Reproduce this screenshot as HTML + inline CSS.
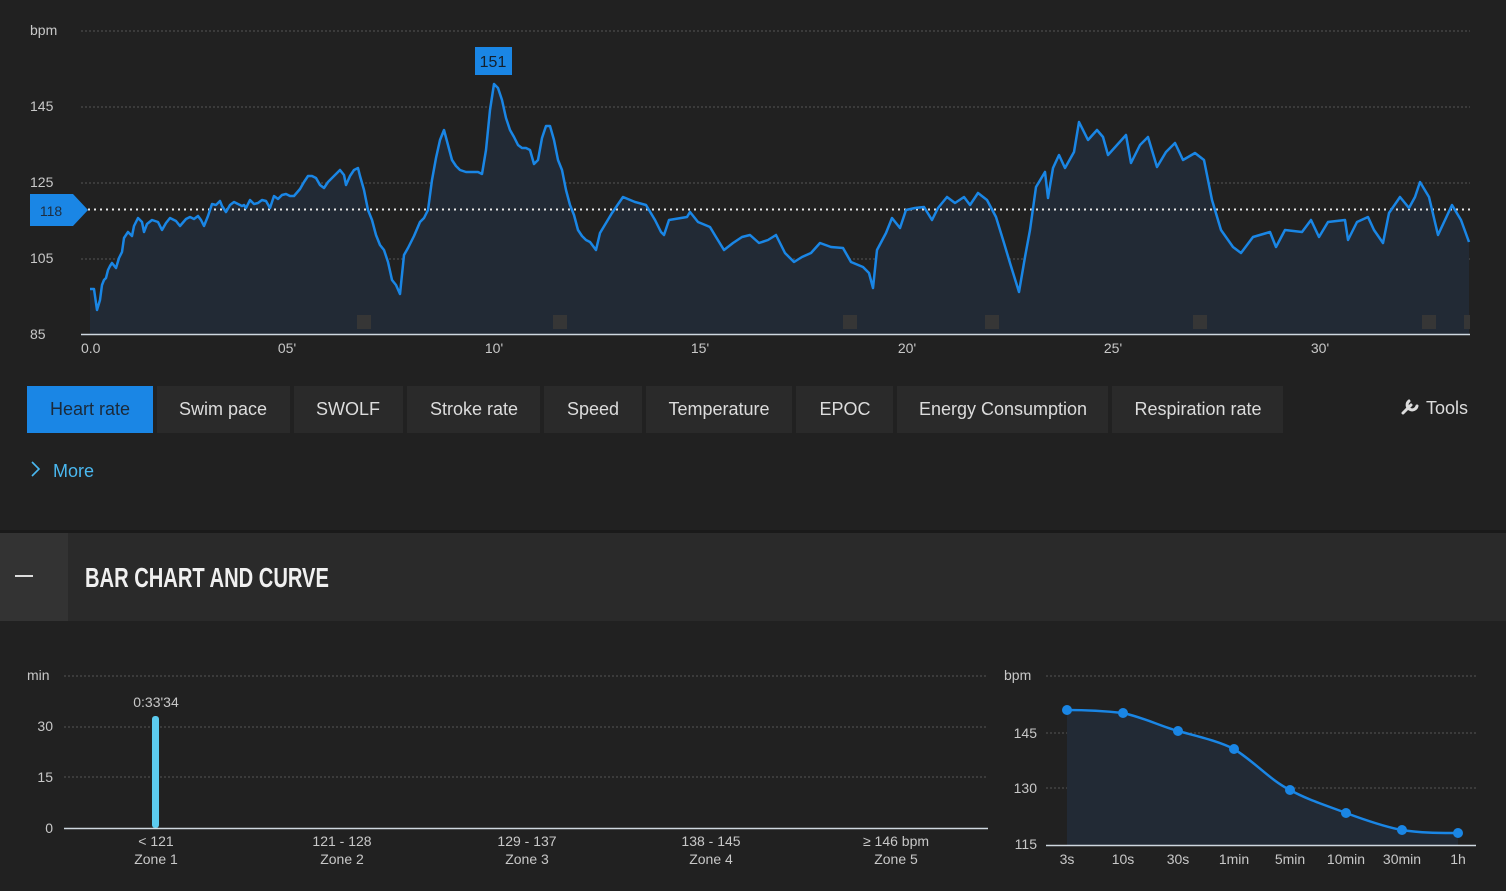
<!DOCTYPE html>
<html><head><meta charset="utf-8"><style>
html,body{margin:0;padding:0;background:#212121;width:1506px;height:891px;overflow:hidden;font-family:"Liberation Sans",Arial,sans-serif}
svg{position:absolute;left:0;top:0}
text{font-family:"Liberation Sans",Arial,sans-serif}
</style></head><body>
<svg width="1506" height="891" viewBox="0 0 1506 891" xmlns="http://www.w3.org/2000/svg">
<rect width="1506" height="891" fill="#212121"/>
<g stroke="#555" stroke-width="1" stroke-dasharray="2,2">
<line x1="81" y1="31" x2="1470" y2="31"/>
<line x1="81" y1="107" x2="1470" y2="107"/>
<line x1="81" y1="183" x2="1470" y2="183"/>
<line x1="81" y1="259" x2="1470" y2="259"/>
</g>
<g fill="#c8c8c8" font-size="14">
<text x="30" y="35">bpm</text>
<text x="30" y="111">145</text>
<text x="30" y="187">125</text>
<text x="30" y="263">105</text>
<text x="30" y="339">85</text>
<text x="81" y="353">0.0</text>
<text x="287" y="353" text-anchor="middle">05'</text>
<text x="494" y="353" text-anchor="middle">10'</text>
<text x="700" y="353" text-anchor="middle">15'</text>
<text x="907" y="353" text-anchor="middle">20'</text>
<text x="1113" y="353" text-anchor="middle">25'</text>
<text x="1320" y="353" text-anchor="middle">30'</text>
</g>
<polygon fill="#222a35" points="90,334 90,289 94,289 97,310 100,300 102,285 104,280 106,278 108,270 110,266 112,263 116,268 119,258 122,252 124,238 128,232 132,236 134,226 138,218 142,222 144,232 147,224 152,220 158,222 162,230 166,223 170,218 174,220 176,221 180,226 186,219 190,217 194,219 198,216 201,220 204,226 208,216 212,204 216,205 220,201 222,206 226,212 230,205 234,202 238,204 242,206 244,205 246,208 250,200 254,204 258,203 262,200 266,201 270,208 274,196 278,199 282,195 286,194 290,196 294,196 300,189 304,182 308,176 312,176 316,178 320,185 324,188 328,182 332,178 336,174 340,170 344,175 346,185 350,176 354,170 358,168 360,176 364,190 368,210 372,220 376,235 380,245 384,250 388,262 392,280 396,285 400,294 404,255 408,248 414,236 420,222 424,218 428,210 432,180 436,158 440,140 444,130 448,145 452,160 456,166 460,170 466,172 472,172 478,172 482,174 486,150 490,110 494,84 498,88 502,100 506,118 510,130 514,137 518,145 522,148 526,148 530,150 534,164 538,160 542,138 546,126 550,126 554,140 558,160 562,170 566,190 570,205 574,215 578,230 582,236 586,240 590,242 596,250 600,233 612,213 623,197 635,202 646,205 655,220 661,232 664,235 669,220 687,217 690,212 698,222 710,227 716,237 724,250 733,243 742,237 750,235 759,243 768,240 776,235 785,253 794,262 802,257 811,253 820,243 831,247 843,248 851,262 863,267 869,273 873,288 877,250 886,233 892,218 900,228 906,210 915,208 924,207 932,220 938,208 947,197 955,203 964,197 970,205 978,193 987,200 996,217 1004,243 1010,263 1019,292 1025,257 1030,230 1036,187 1045,172 1048,198 1053,168 1059,155 1065,168 1074,152 1079,122 1088,140 1097,130 1103,137 1108,155 1117,145 1126,135 1131,163 1140,145 1148,137 1157,167 1166,152 1175,143 1183,160 1195,153 1204,160 1212,200 1221,230 1233,247 1241,253 1253,237 1270,232 1276,247 1285,230 1302,232 1311,220 1319,237 1328,222 1345,220 1348,240 1357,222 1368,217 1374,230 1383,243 1389,213 1400,197 1409,208 1415,197 1420,182 1429,197 1438,235 1452,205 1461,220 1469,242 1469,334"/>
<g fill="#363636">
<rect x="357" y="315" width="14" height="14"/><rect x="553" y="315" width="14" height="14"/>
<rect x="843" y="315" width="14" height="14"/><rect x="985" y="315" width="14" height="14"/>
<rect x="1193" y="315" width="14" height="14"/><rect x="1422" y="315" width="14" height="14"/>
<rect x="1464" y="315" width="6" height="14"/>
</g>
<line x1="81" y1="334.5" x2="1470" y2="334.5" stroke="#cfd8e0" stroke-width="1.5"/>
<line x1="88" y1="209.5" x2="1470" y2="209.5" stroke="#e8e8e8" stroke-width="2" stroke-dasharray="2,4"/>
<polyline fill="none" stroke="#1a86e5" stroke-width="2.5" stroke-linejoin="round" points="90,289 94,289 97,310 100,300 102,285 104,280 106,278 108,270 110,266 112,263 116,268 119,258 122,252 124,238 128,232 132,236 134,226 138,218 142,222 144,232 147,224 152,220 158,222 162,230 166,223 170,218 174,220 176,221 180,226 186,219 190,217 194,219 198,216 201,220 204,226 208,216 212,204 216,205 220,201 222,206 226,212 230,205 234,202 238,204 242,206 244,205 246,208 250,200 254,204 258,203 262,200 266,201 270,208 274,196 278,199 282,195 286,194 290,196 294,196 300,189 304,182 308,176 312,176 316,178 320,185 324,188 328,182 332,178 336,174 340,170 344,175 346,185 350,176 354,170 358,168 360,176 364,190 368,210 372,220 376,235 380,245 384,250 388,262 392,280 396,285 400,294 404,255 408,248 414,236 420,222 424,218 428,210 432,180 436,158 440,140 444,130 448,145 452,160 456,166 460,170 466,172 472,172 478,172 482,174 486,150 490,110 494,84 498,88 502,100 506,118 510,130 514,137 518,145 522,148 526,148 530,150 534,164 538,160 542,138 546,126 550,126 554,140 558,160 562,170 566,190 570,205 574,215 578,230 582,236 586,240 590,242 596,250 600,233 612,213 623,197 635,202 646,205 655,220 661,232 664,235 669,220 687,217 690,212 698,222 710,227 716,237 724,250 733,243 742,237 750,235 759,243 768,240 776,235 785,253 794,262 802,257 811,253 820,243 831,247 843,248 851,262 863,267 869,273 873,288 877,250 886,233 892,218 900,228 906,210 915,208 924,207 932,220 938,208 947,197 955,203 964,197 970,205 978,193 987,200 996,217 1004,243 1010,263 1019,292 1025,257 1030,230 1036,187 1045,172 1048,198 1053,168 1059,155 1065,168 1074,152 1079,122 1088,140 1097,130 1103,137 1108,155 1117,145 1126,135 1131,163 1140,145 1148,137 1157,167 1166,152 1175,143 1183,160 1195,153 1204,160 1212,200 1221,230 1233,247 1241,253 1253,237 1270,232 1276,247 1285,230 1302,232 1311,220 1319,237 1328,222 1345,220 1348,240 1357,222 1368,217 1374,230 1383,243 1389,213 1400,197 1409,208 1415,197 1420,182 1429,197 1438,235 1452,205 1461,220 1469,242"/>
<polygon points="30,194 73,194 88,210 73,226 30,226" fill="#1a86e5"/>
<text x="51" y="216" fill="#1e2e40" font-size="14" text-anchor="middle">118</text>
<rect x="475" y="47" width="37" height="28" fill="#1a86e5"/>
<text x="493" y="67" fill="#14202c" font-size="16" text-anchor="middle">151</text>
<rect x="27" y="386" width="126" height="47" fill="#1a86e5"/>
<g fill="#2a2a2a">
<rect x="157" y="386" width="133" height="47"/><rect x="294" y="386" width="109" height="47"/>
<rect x="407" y="386" width="133" height="47"/><rect x="544" y="386" width="98" height="47"/>
<rect x="646" y="386" width="146" height="47"/><rect x="796" y="386" width="97" height="47"/>
<rect x="897" y="386" width="211" height="47"/><rect x="1112" y="386" width="171" height="47"/>
</g>
<g font-size="18" text-anchor="middle" fill="#dcdcdc">
<text x="90" y="415" fill="#1b2a3a">Heart rate</text>
<text x="223" y="415">Swim pace</text>
<text x="348" y="415">SWOLF</text>
<text x="474" y="415">Stroke rate</text>
<text x="593" y="415">Speed</text>
<text x="719" y="415">Temperature</text>
<text x="845" y="415">EPOC</text>
<text x="1003" y="415">Energy Consumption</text>
<text x="1198" y="415">Respiration rate</text>
<text x="1426" y="414" text-anchor="start">Tools</text>
</g>
<path d="M1403,413 L1411,405 M1409,401 a5,5 0 1 0 8,5" stroke="#dcdcdc" stroke-width="3" fill="none" stroke-linecap="round"/>
<path d="M32,462 L39,469 L32,476" stroke="#4ab8f0" stroke-width="1.6" fill="none"/>
<text x="53" y="477" fill="#4ab8f0" font-size="18">More</text>
<rect x="0" y="530" width="1506" height="3" fill="#1a1a1a"/>
<rect x="0" y="533" width="1506" height="88" fill="#2a2a2a"/>
<rect x="0" y="533" width="68" height="88" fill="#333"/>
<rect x="15" y="575" width="18" height="2" fill="#ddd"/>
<text x="85" y="587" fill="#f0f0f0" font-size="28" font-weight="bold" font-family="Liberation Sans Narrow, Liberation Sans, sans-serif" transform="translate(85,0) scale(0.72,1) translate(-85,0)">BAR CHART AND CURVE</text>
<g stroke="#555" stroke-dasharray="2,2">
<line x1="64" y1="676" x2="988" y2="676"/><line x1="64" y1="727" x2="988" y2="727"/><line x1="64" y1="777" x2="988" y2="777"/>
<line x1="1046" y1="676" x2="1476" y2="676"/><line x1="1046" y1="733" x2="1476" y2="733"/><line x1="1046" y1="788" x2="1476" y2="788"/>
</g>
<g fill="#c8c8c8" font-size="14">
<text x="27" y="680">min</text>
<text x="53" y="731" text-anchor="end">30</text>
<text x="53" y="782" text-anchor="end">15</text>
<text x="53" y="833" text-anchor="end">0</text>
<text x="156" y="707" text-anchor="middle">0:33'34</text>
<g text-anchor="middle">
<text x="156" y="846">&lt; 121</text><text x="156" y="864">Zone 1</text>
<text x="342" y="846">121 - 128</text><text x="342" y="864">Zone 2</text>
<text x="527" y="846">129 - 137</text><text x="527" y="864">Zone 3</text>
<text x="711" y="846">138 - 145</text><text x="711" y="864">Zone 4</text>
<text x="896" y="846">≥ 146 bpm</text><text x="896" y="864">Zone 5</text>
</g>
<text x="1004" y="680">bpm</text>
<text x="1037" y="738" text-anchor="end">145</text>
<text x="1037" y="793" text-anchor="end">130</text>
<text x="1037" y="849" text-anchor="end">115</text>
<g text-anchor="middle">
<text x="1067" y="864">3s</text><text x="1123" y="864">10s</text><text x="1178" y="864">30s</text><text x="1234" y="864">1min</text>
<text x="1290" y="864">5min</text><text x="1346" y="864">10min</text><text x="1402" y="864">30min</text><text x="1458" y="864">1h</text>
</g>
</g>
<rect x="152" y="716" width="7" height="112" rx="3" fill="#5ccbef"/>
<line x1="64" y1="828.5" x2="988" y2="828.5" stroke="#cfd8e0" stroke-width="1.5"/>
<path d="M1067,710 C1090,710 1105,711 1123,713 C1145,718 1160,726 1178,731 C1200,737 1218,741 1234,749 C1255,762 1270,780 1290,790 C1308,800 1328,806 1346,813 C1365,820 1385,827 1402,830 C1420,833 1440,833 1458,833 L1458,845 L1067,845 Z" fill="#222a35"/>
<path d="M1067,710 C1090,710 1105,711 1123,713 C1145,718 1160,726 1178,731 C1200,737 1218,741 1234,749 C1255,762 1270,780 1290,790 C1308,800 1328,806 1346,813 C1365,820 1385,827 1402,830 C1420,833 1440,833 1458,833" fill="none" stroke="#1a86e5" stroke-width="2.5"/>
<line x1="1046" y1="845.5" x2="1476" y2="845.5" stroke="#cfd8e0" stroke-width="1.5"/>
<g fill="#1a86e5">
<circle cx="1067" cy="710" r="5"/><circle cx="1123" cy="713" r="5"/><circle cx="1178" cy="731" r="5"/><circle cx="1234" cy="749" r="5"/>
<circle cx="1290" cy="790" r="5"/><circle cx="1346" cy="813" r="5"/><circle cx="1402" cy="830" r="5"/><circle cx="1458" cy="833" r="5"/>
</g>
</svg>
</body></html>
